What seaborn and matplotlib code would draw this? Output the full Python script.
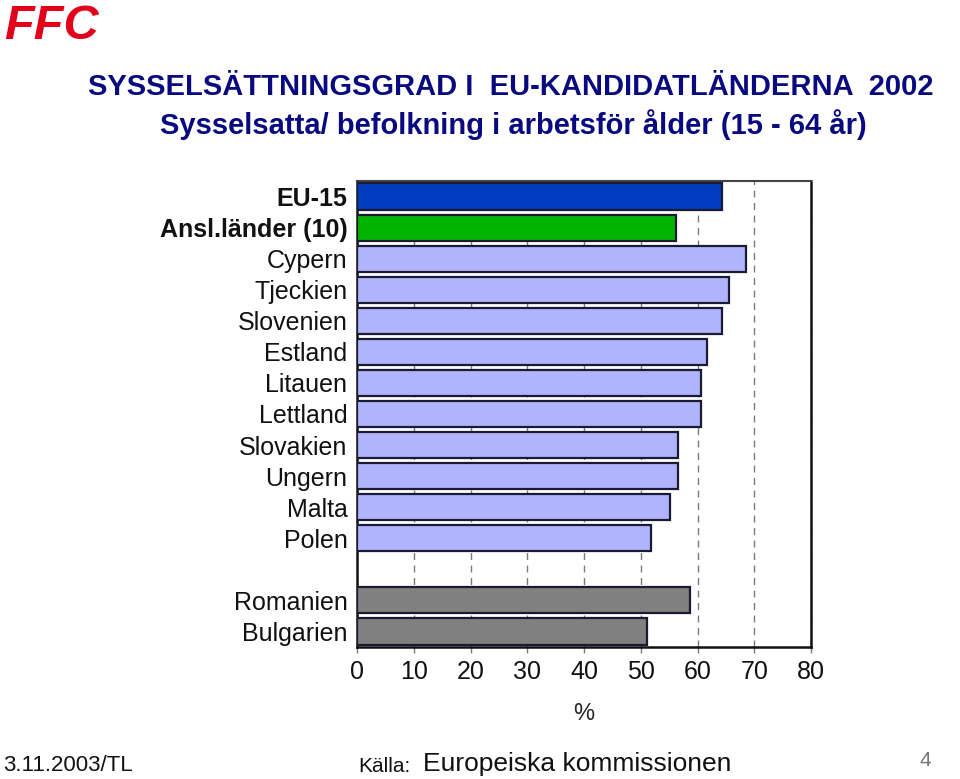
import matplotlib
matplotlib.use("Agg")
import matplotlib.pyplot as plt
import seaborn as sns
import pandas as pd

categories = ["EU-15", "Ansl.länder (10)", "Cypern", "Tjeckien", "Slovenien", "Estland",
              "Litauen", "Lettland", "Slovakien", "Ungern", "Malta", "Polen",
              "Romanien", "Bulgarien"]
values = [64.2, 56.1, 68.5, 65.6, 64.2, 61.7, 60.6, 60.5, 56.5, 56.5, 55.2, 51.7, 58.6, 51.1]
groups = ["eu", "ansl", "kand", "kand", "kand", "kand", "kand", "kand", "kand", "kand",
          "kand", "kand", "ans", "ans"]
x_ticks = [0, 10, 20, 30, 40, 50, 60, 70, 80]

group_colors = {"eu": "#003CC0", "ansl": "#00B400", "kand": "#B0B4FF", "ans": "#808080"}
gap = " "
order = categories[:12] + [gap] + categories[12:]

df = pd.DataFrame({"land": categories, "varde": values})
palette = {c: group_colors[g] for c, g in zip(categories, groups)}

sns.set_style("white")
plt.rcParams["font.family"] = ["Liberation Sans", "DejaVu Sans"]

fig = plt.figure(figsize=(9.6, 7.79), dpi=100)
ax = fig.add_axes([0.372, 0.1694, 0.473, 0.5983])

sns.barplot(data=df, x="varde", y="land", hue="land", order=order, hue_order=categories,
            palette=palette, orient="h", legend=False, width=0.84, saturation=1,
            edgecolor="#1a1a33", linewidth=1.6, ax=ax, zorder=3)

ax.set_xlim(0, 80)
ax.set_ylim(14.5, -0.5)
ax.set_xticks(x_ticks)
ax.set_xticklabels([str(t) for t in x_ticks], fontsize=18)
ax.xaxis.grid(True, linestyle=(0, (5, 4)), color="#7a7a7a", linewidth=1.0, zorder=0)
ax.yaxis.grid(False)
ax.tick_params(axis="x", length=4, width=1, color="#7a7a7a", pad=5, bottom=True)
ax.tick_params(axis="y", length=0, pad=7)
ax.set_ylabel("")
ax.set_xlabel("%", fontsize=17, labelpad=14)

for lbl in ax.get_yticklabels():
    lbl.set_fontsize(18)
    lbl.set_color("#111111")
    if lbl.get_text() in ("EU-15", "Ansl.länder (10)"):
        lbl.set_fontweight("bold")
for lbl in ax.get_xticklabels():
    lbl.set_color("#111111")

for side in ["left", "right", "bottom"]:
    ax.spines[side].set_visible(True)
    ax.spines[side].set_color("#111111")
    ax.spines[side].set_linewidth(1.8)
ax.spines["top"].set_visible(True)
ax.spines["top"].set_color("#444444")
ax.spines["top"].set_linewidth(1.5)

navy = "#0a0a80"
fig.text(0.092, 0.888, "SYSSELSÄTTNINGSGRAD I  EU-KANDIDATLÄNDERNA  2002",
         fontsize=21, fontweight="bold", color=navy, ha="left", va="center")
fig.text(0.167, 0.840, "Sysselsatta/ befolkning i arbetsför ålder (15 - 64 år)",
         fontsize=21, fontweight="bold", color=navy, ha="left", va="center")

fig.text(0.004, 0.995, "FFC", fontsize=35, fontweight="bold", fontstyle="italic",
         color="#E3001B", ha="left", va="top")

fig.text(0.003, 0.017, "3.11.2003/TL", fontsize=16, color="#111111", ha="left", va="center")
fig.text(0.373, 0.016, "Källa:", fontsize=15, color="#111111", ha="left", va="center")
fig.text(0.441, 0.019, "Europeiska kommissionen", fontsize=19, color="#111111", ha="left", va="center")
fig.text(0.958, 0.024, "4", fontsize=15, color="#777777", ha="left", va="center")

fig.savefig("out.png", dpi=100)
